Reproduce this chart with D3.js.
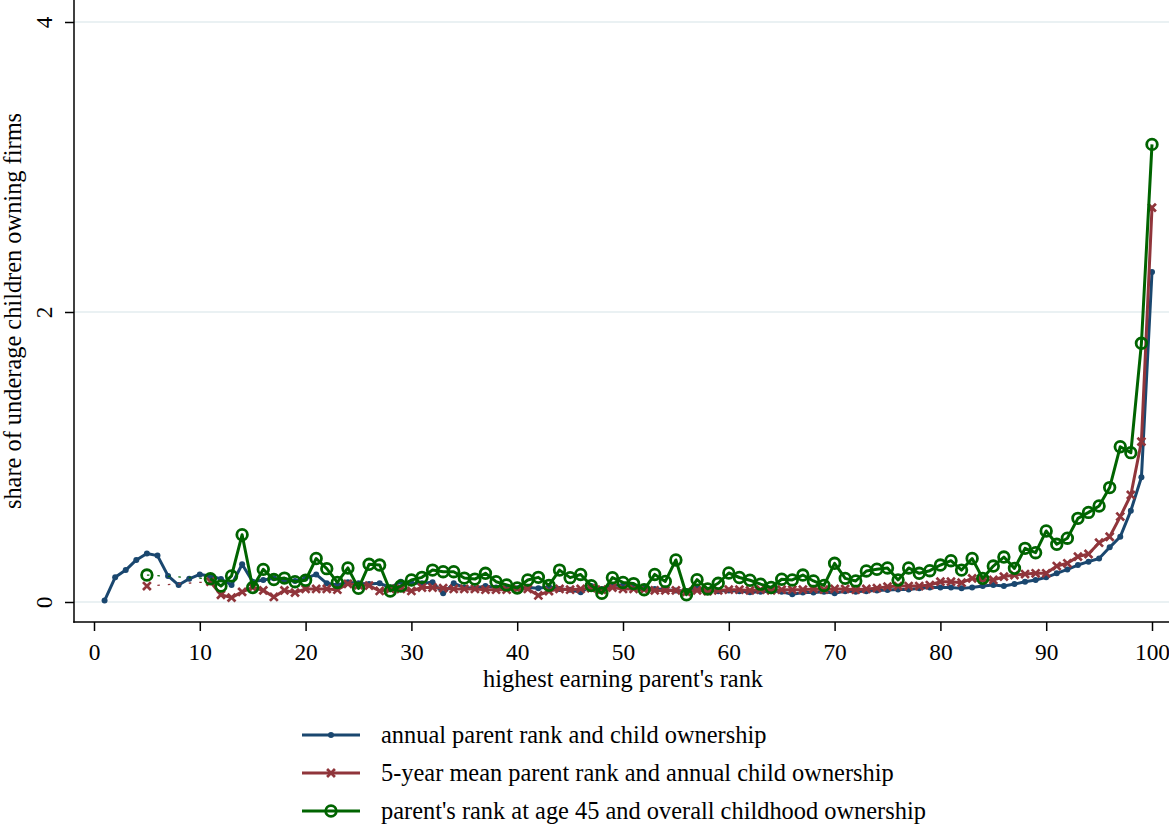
<!DOCTYPE html>
<html>
<head>
<meta charset="utf-8">
<script src="https://cdn.jsdelivr.net/npm/d3@7"></script>
<style>
  html, body { margin: 0; padding: 0; background: #ffffff; }
  svg { display: block; }
  text { font-family: "Liberation Serif", "Times New Roman", serif; fill: #000; }
</style>
</head>
<body>
<svg id="chart" width="1169" height="824"></svg>
<script>
// ---------------- data ----------------
const ranks = [1,2,3,4,5,6,7,8,9,10,11,12,13,14,15,16,17,18,19,20,
  21,22,23,24,25,26,27,28,29,30,31,32,33,34,35,36,37,38,39,40,
  41,42,43,44,45,46,47,48,49,50,51,52,53,54,55,56,57,58,59,60,
  61,62,63,64,65,66,67,68,69,70,71,72,73,74,75,76,77,78,79,80,
  81,82,83,84,85,86,87,88,89,90,91,92,93,94,95,96,97,98,99,100];

const annualOwnership = [
  0.01,0.17,0.22,0.29,0.335,0.32,0.18,0.117,0.16,0.19,
  0.18,0.159,0.117,0.26,0.14,0.152,0.163,0.152,0.145,0.163,
  0.19,0.129,0.117,0.136,0.129,0.124,0.129,0.10,0.14,0.129,
  0.129,0.136,0.06,0.129,0.10,0.095,0.11,0.10,0.10,0.095,
  0.10,0.095,0.105,0.09,0.085,0.067,0.11,0.09,0.117,0.115,
  0.11,0.10,0.09,0.085,0.08,0.075,0.10,0.08,0.075,0.08,
  0.075,0.067,0.07,0.075,0.07,0.053,0.065,0.065,0.07,0.06,
  0.075,0.07,0.075,0.08,0.083,0.087,0.087,0.094,0.10,0.10,
  0.10,0.094,0.10,0.11,0.117,0.11,0.124,0.14,0.152,0.17,
  0.198,0.225,0.255,0.278,0.30,0.377,0.45,0.63,0.86,2.276];

const meanRankOwnership = [
  null,null,null,null,0.11,null,null,null,null,null,
  0.14,0.05,0.03,0.07,0.10,0.08,0.035,0.08,0.065,0.09,
  0.09,0.09,0.085,0.125,0.117,0.113,0.076,0.09,0.09,0.076,
  0.10,0.10,0.095,0.09,0.09,0.09,0.085,0.085,0.085,0.09,
  0.09,0.045,0.075,0.09,0.085,0.09,0.095,0.085,0.10,0.09,
  0.09,0.085,0.08,0.08,0.08,0.07,0.08,0.075,0.08,0.085,
  0.085,0.08,0.085,0.08,0.085,0.085,0.085,0.09,0.085,0.09,
  0.09,0.085,0.09,0.095,0.106,0.11,0.11,0.11,0.117,0.14,
  0.14,0.133,0.163,0.152,0.152,0.175,0.186,0.193,0.198,0.198,
  0.248,0.267,0.313,0.331,0.409,0.45,0.589,0.738,1.106,2.72];

const age45Ownership = [
  null,null,null,null,0.186,null,null,null,null,null,
  0.16,0.11,0.18,0.464,0.10,0.225,0.155,0.165,0.14,0.15,
  0.30,0.23,0.135,0.235,0.094,0.26,0.255,0.076,0.11,0.152,
  0.17,0.22,0.209,0.209,0.165,0.158,0.198,0.14,0.118,0.097,
  0.152,0.17,0.115,0.22,0.168,0.19,0.113,0.06,0.168,0.135,
  0.127,0.085,0.19,0.142,0.29,0.05,0.154,0.09,0.129,0.20,
  0.169,0.15,0.123,0.10,0.157,0.152,0.186,0.145,0.114,0.267,
  0.163,0.145,0.214,0.226,0.235,0.152,0.235,0.198,0.216,0.255,
  0.285,0.22,0.30,0.163,0.248,0.31,0.232,0.37,0.34,0.49,
  0.398,0.44,0.577,0.618,0.662,0.789,1.071,1.03,1.784,3.156];

const xTicks = [0,10,20,30,40,50,60,70,80,90,100];
const yTicks = [0,2,4];
const seriesNames = [
  "annual parent rank and child ownership",
  "5-year mean parent rank and annual child ownership",
  "parent's rank at age 45 and overall childhood ownership"
];
const xTitle = "highest earning parent's rank";
const yTitle = "share of underage children owning firms";

// ---------------- layout ----------------
const W = 1169, H = 824;
const plotLeft = 74, plotRight = 1169, plotTop = 0, plotBottom = 622;
const FONT = 24.4;
const TICKFONT = 23.4;

const svg = d3.select("#chart");
svg.append("rect").attr("width", W).attr("height", H).attr("fill", "#fff");

const x = d3.scaleLinear().domain([0, 100]).range([94, 1152]);
const y = d3.scaleLinear().domain([0, 4]).range([602, 22]);

// grid lines
svg.append("g").selectAll("line").data(yTicks).join("line")
  .attr("x1", plotLeft).attr("x2", plotRight)
  .attr("y1", d => y(d)).attr("y2", d => y(d))
  .attr("stroke", "#eaf1f3").attr("stroke-width", 2);

// y axis
const yAxis = svg.append("g").attr("transform", `translate(${plotLeft},0)`)
  .call(d3.axisLeft(y).tickValues(yTicks).tickSize(9).tickFormat(d3.format("d")));
yAxis.select(".domain").remove();
yAxis.selectAll(".tick line").attr("stroke", "#000").attr("stroke-width", 1.5);
yAxis.selectAll(".tick text")
  .attr("font-size", TICKFONT).attr("font-family", "Liberation Serif")
  .attr("x", null).attr("dy", null)
  .attr("text-anchor", "middle")
  .attr("transform", "translate(-22,0) rotate(-90)");
svg.append("line").attr("x1", plotLeft).attr("x2", plotLeft)
  .attr("y1", plotTop).attr("y2", plotBottom + 0.75)
  .attr("stroke", "#000").attr("stroke-width", 1.5);

// x axis
const xAxis = svg.append("g").attr("transform", `translate(0,${plotBottom})`)
  .call(d3.axisBottom(x).tickValues(xTicks).tickSize(9).tickFormat(d3.format("d")));
xAxis.select(".domain").remove();
xAxis.selectAll(".tick line").attr("stroke", "#000").attr("stroke-width", 1.5);
xAxis.selectAll(".tick text")
  .attr("font-size", TICKFONT).attr("font-family", "Liberation Serif")
  .attr("y", 38).attr("dy", null);
svg.append("line").attr("x1", plotLeft - 0.75).attr("x2", plotRight)
  .attr("y1", plotBottom).attr("y2", plotBottom)
  .attr("stroke", "#000").attr("stroke-width", 1.5);

// titles
svg.append("text").attr("x", (94 + 1152) / 2).attr("y", 687)
  .attr("text-anchor", "middle").attr("font-size", FONT).text(xTitle);
svg.append("text").attr("transform", `translate(21,${(plotTop + plotBottom) / 2}) rotate(-90)`)
  .attr("text-anchor", "middle").attr("font-size", FONT).text(yTitle);

// ---------------- series ----------------
const colors = ["#1a476f", "#90353b", "#006400"];
const allSeries = [annualOwnership, meanRankOwnership, age45Ownership];

const clip = svg.append("g");
const line = d3.line()
  .defined(d => d.v != null)
  .x(d => x(d.r)).y(d => y(d.v));

function drawMarker(g, i, px, py) {
  if (i === 0) {
    g.append("circle").attr("cx", px).attr("cy", py).attr("r", 3)
      .attr("fill", colors[0]);
  } else if (i === 1) {
    g.append("path").attr("transform", `translate(${px},${py})`)
      .attr("d", d3.symbol(d3.symbolX, 42)())
      .attr("fill", "none").attr("stroke", colors[1]).attr("stroke-width", 2.7);
  } else {
    g.append("circle").attr("cx", px).attr("cy", py).attr("r", 5.3)
      .attr("fill", "none").attr("stroke", colors[2]).attr("stroke-width", 2.8);
  }
}

allSeries.forEach((vals, i) => {
  const pts = ranks.map((r, k) => ({ r: r, v: vals[k] }));
  const g = clip.append("g");
  // dotted connectors across gaps
  const def = pts.filter(d => d.v != null);
  for (let k = 1; k < def.length; k++) {
    if (ranks.indexOf(def[k].r) - ranks.indexOf(def[k - 1].r) > 1) {
      g.append("line")
        .attr("x1", x(def[k - 1].r)).attr("y1", y(def[k - 1].v))
        .attr("x2", x(def[k].r)).attr("y2", y(def[k].v))
        .attr("stroke", colors[i]).attr("stroke-width", 1.3)
        .attr("stroke-dasharray", "2.5,8");
    }
  }
  g.append("path").datum(pts)
    .attr("d", line)
    .attr("fill", "none").attr("stroke", colors[i])
    .attr("stroke-width", 3).attr("stroke-linejoin", "round");
  def.forEach(d => drawMarker(g, i, x(d.r), y(d.v)));
});

// ---------------- legend ----------------
const legY = [735, 773, 811];
seriesNames.forEach((name, i) => {
  const g = svg.append("g");
  g.append("line").attr("x1", 302).attr("x2", 360)
    .attr("y1", legY[i]).attr("y2", legY[i])
    .attr("stroke", colors[i]).attr("stroke-width", 3);
  drawMarker(g, i, 331, legY[i]);
  g.append("text").attr("x", 381).attr("y", legY[i] + 8)
    .attr("font-size", FONT).text(name);
});
</script>
</body>
</html>
